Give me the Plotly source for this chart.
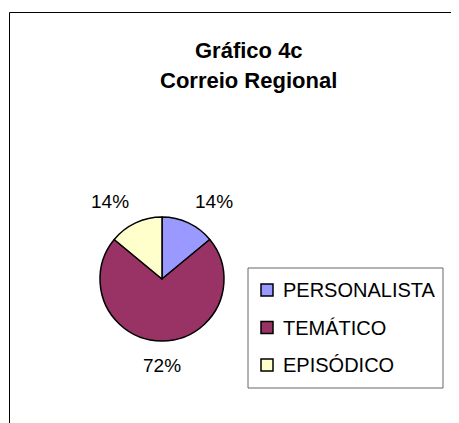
import math
import plotly.graph_objects as go

W, H = 459, 423
OFF = 8  # page body margin offset in the browser

title_lines = ["Gráfico 4c", "Correio Regional"]
labels = ["PERSONALISTA", "TEMÁTICO", "EPISÓDICO"]
values = [14, 72, 14]
colors = ["#9999FF", "#993366", "#FFFFCC"]

FONT = "Liberation Sans, Arial, sans-serif"


def X(px):
    return (px - OFF) / W


def Y(py):
    return 1 - (py - OFF) / H


# pie geometry in pixels (window coordinates)
cx, cy, r = 162, 279, 62

fig = go.Figure()
fig.add_trace(go.Pie(
    labels=labels,
    values=values,
    sort=False,
    direction="clockwise",
    rotation=0,
    textinfo="none",
    marker=dict(colors=colors, line=dict(color="#000000", width=1.5)),
    domain=dict(x=[X(cx - r), X(cx + r)], y=[Y(cy + r), Y(cy - r)]),
    showlegend=False,
    hoverinfo="label+percent",
))

shapes = []
annotations = []

# percentage labels placed outside each slice, at its mid angle
total = sum(values)
cum = 0.0
gap, hw, hh = 14, 45, 10
for v in values:
    mid = (cum + v / 2) / total * 2 * math.pi
    cum += v
    s, c = math.sin(mid), math.cos(mid)
    tx = cx + (r + gap) * s + hw * s
    ty = cy - (r + gap) * c - hh * c
    annotations.append(dict(text=f"{round(100 * v / total)}%", xref="paper", yref="paper",
                            x=X(tx), y=Y(ty), showarrow=False,
                            xanchor="center", yanchor="middle",
                            font=dict(family=FONT, size=19, color="#000000")))

# outer chart frame (top and left edges visible)
shapes.append(dict(type="line", xref="paper", yref="paper",
                   x0=X(9.5), x1=1.05, y0=Y(12.5), y1=Y(12.5),
                   line=dict(color="#000000", width=1)))
shapes.append(dict(type="line", xref="paper", yref="paper",
                   x0=X(9.5), x1=X(9.5), y0=-0.05, y1=Y(12.5),
                   line=dict(color="#000000", width=1)))

# title
for txt, ty in zip(title_lines, [50, 80]):
    annotations.append(dict(text=txt, xref="paper", yref="paper",
                            x=X(249), y=Y(ty), showarrow=False,
                            xanchor="center", yanchor="middle",
                            font=dict(family=FONT, size=22, color="#000000", weight="bold")))

# legend box
lx0, lx1, ly0, ly1 = 248, 443, 268, 388
shapes.append(dict(type="rect", xref="paper", yref="paper",
                   x0=X(lx0), x1=X(lx1), y0=Y(ly1), y1=Y(ly0),
                   line=dict(color="#666666", width=1), fillcolor="#FFFFFF"))
item_y0, item_dy = 290, 37.5
for i, (lab, col) in enumerate(zip(labels, colors)):
    yc = item_y0 + i * item_dy
    shapes.append(dict(type="rect", xref="paper", yref="paper",
                       x0=X(261), x1=X(273), y0=Y(yc + 6), y1=Y(yc - 6),
                       line=dict(color="#000000", width=1.5), fillcolor=col))
    annotations.append(dict(text=lab, xref="paper", yref="paper",
                            x=X(281), y=Y(yc), showarrow=False,
                            xanchor="left", yanchor="middle",
                            font=dict(family=FONT, size=20, color="#000000")))

fig.update_layout(
    width=W, height=H,
    margin=dict(l=0, r=0, t=0, b=0),
    paper_bgcolor="#FFFFFF",
    plot_bgcolor="#FFFFFF",
    shapes=shapes,
    annotations=annotations,
)

fig.write_html("out.html")
